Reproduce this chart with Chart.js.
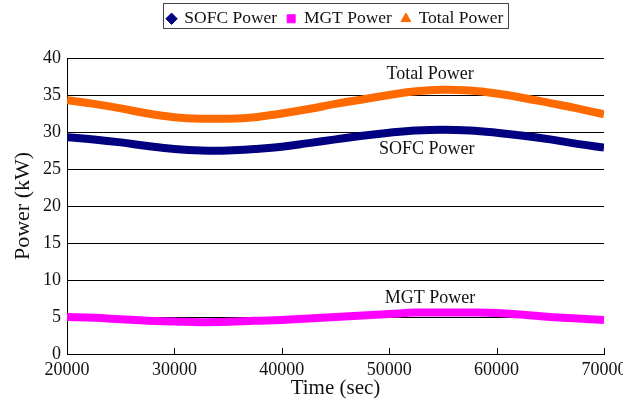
<!DOCTYPE html>
<html>
<head>
<meta charset="utf-8">
<script src="https://cdn.jsdelivr.net/npm/chart.js@4.4.0/dist/chart.umd.min.js"></script>
<style>
  html, body { margin: 0; padding: 0; background: #fff; }
  #wrap { width: 623px; height: 405px; }
</style>
</head>
<body>
<div id="wrap"><canvas id="power"></canvas></div>
<script>
// time in seconds
const times = [20000, 22500, 25000, 27500, 30000, 32500, 35000, 37500, 40000, 42500, 45000,
               47500, 50000, 52500, 55000, 57500, 60000, 62500, 65000, 67500, 70000];
const sofcPower = [29.3, 29.0, 28.6, 28.1, 27.7, 27.5, 27.5, 27.7, 28.0, 28.5, 29.0,
                   29.5, 29.9, 30.2, 30.3, 30.2, 29.9, 29.5, 29.0, 28.4, 27.9];
const mgtPower = [5.0, 4.9, 4.7, 4.5, 4.4, 4.3, 4.35, 4.5, 4.6, 4.8, 5.0,
                  5.2, 5.4, 5.6, 5.6, 5.6, 5.55, 5.3, 5.0, 4.8, 4.6];
const totalPower = [34.3, 33.8, 33.2, 32.5, 32.0, 31.8, 31.8, 32.0, 32.5, 33.1, 33.8,
                    34.4, 35.0, 35.5, 35.7, 35.6, 35.2, 34.6, 33.9, 33.2, 32.4];
const xTicks = [20000, 30000, 40000, 50000, 60000, 70000];
const yTicks = [0, 5, 10, 15, 20, 25, 30, 35, 40];
// in-plot labels: [text, time, power]
const curveLabels = [
  ['Total Power', 53800, 37.8],
  ['SOFC Power', 53500, 27.7],
  ['MGT Power', 53800, 7.5]
];

const serif = '"Liberation Serif", "Times New Roman", serif';

const toPts = (vals) => times.map((t, i) => ({ x: t, y: vals[i] }));

// legend takes more room above the plot than chart.js gives it
const legendRoom = {
  id: 'legendRoom',
  beforeLayout(chart) {
    const lg = chart.legend;
    if (lg && !lg._patched) {
      const fit = lg.fit;
      lg.fit = function () { fit.call(this); this.height = 58; };
      lg._patched = true;
    }
  }
};

// frame around the legend, inner x ticks, curve labels
const extras = {
  id: 'extras',
  afterDraw(chart) {
    const { ctx, scales: { x, y } } = chart;
    ctx.save();
    const lg = chart.legend;
    if (lg && lg.legendHitBoxes.length) {
      const hb = lg.legendHitBoxes;
      const left = hb[0].left - 5;
      const last = hb[hb.length - 1];
      const right = last.left + last.width + 4;
      ctx.strokeStyle = '#444';
      ctx.lineWidth = 1;
      ctx.strokeRect(Math.round(left) + 0.5, 3.5, Math.round(right - left), 25);
    }
    // tick marks pointing into the plot
    ctx.strokeStyle = '#000';
    ctx.lineWidth = 1;
    xTicks.slice(1).forEach(v => {
      const px = Math.round(x.getPixelForValue(v)) + 0.5;
      ctx.beginPath();
      ctx.moveTo(px, y.bottom);
      ctx.lineTo(px, y.bottom - 6);
      ctx.stroke();
    });
    ctx.fillStyle = '#111';
    ctx.font = '18px ' + serif;
    ctx.textAlign = 'center';
    ctx.textBaseline = 'middle';
    curveLabels.forEach(([txt, t, p]) => {
      ctx.fillText(txt, x.getPixelForValue(t), y.getPixelForValue(p));
    });
    ctx.restore();
  }
};

new Chart(document.getElementById('power'), {
  type: 'line',
  data: {
    datasets: [
      { label: 'SOFC Power', data: toPts(sofcPower), borderColor: '#000080', backgroundColor: '#000080',
        pointStyle: 'rectRot' },
      { label: 'MGT Power', data: toPts(mgtPower), borderColor: '#ff00ff', backgroundColor: '#ff00ff',
        pointStyle: 'rect' },
      { label: 'Total Power', data: toPts(totalPower), borderColor: '#ff6a00', backgroundColor: '#ff6a00',
        pointStyle: 'triangle' }
    ]
  },
  options: {
    responsive: true,
    maintainAspectRatio: false,
    animation: false,
    layout: { padding: { left: 0, right: 19, top: 0, bottom: 0 } },
    elements: {
      line: { borderWidth: 8, tension: 0.4 },
      point: { radius: 0, hoverRadius: 0 }
    },
    plugins: {
      tooltip: { enabled: false },
      legend: {
        position: 'top',
        fullSize: false,
        labels: {
          usePointStyle: true,
          boxWidth: 8,
          boxHeight: 8,
          padding: 10,
          color: '#111',
          font: { family: serif, size: 17.5 }
        }
      }
    },
    scales: {
      x: {
        type: 'linear',
        min: 20000,
        max: 70000,
        afterBuildTicks: (s) => { s.ticks = xTicks.map(v => ({ value: v })); },
        afterFit: (s) => { s.height = 51; s.paddingLeft = 0; s.paddingRight = 0; },
        grid: { display: false },
        border: { color: '#000', width: 1 },
        ticks: { color: '#111', font: { family: serif, size: 18 }, padding: -3, maxRotation: 0,
                 callback: (v) => String(v) },
        title: { display: true, text: 'Time (sec)', color: '#111',
                 font: { family: serif, size: 21 }, padding: { top: 0 } }
      },
      y: {
        min: 0,
        max: 40,
        afterBuildTicks: (s) => { s.ticks = yTicks.map(v => ({ value: v })); },
        afterFit: (s) => { s.width = 67; },
        grid: { color: '#000', lineWidth: 1, drawTicks: false },
        border: { color: '#000', width: 1 },
        ticks: { color: '#111', font: { family: serif, size: 18 }, padding: 6 },
        title: { display: true, text: 'Power (kW)', color: '#111',
                 font: { family: serif, size: 22 }, padding: { top: 10, bottom: 4 } }
      }
    }
  },
  plugins: [legendRoom, extras]
});
</script>
</body>
</html>
